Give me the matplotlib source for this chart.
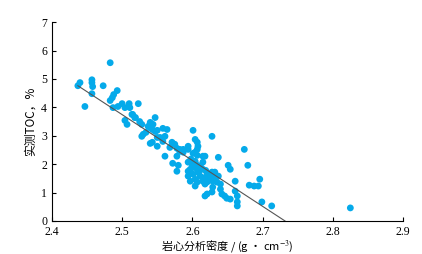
import matplotlib.pyplot as plt

plt.rcParams['font.family'] = ['Liberation Serif', 'Noto Sans CJK SC']
plt.rcParams['mathtext.fontset'] = 'stix'

# Densidade (g/cm3) e TOC medido (%)
densidade = [
    2.437, 2.440, 2.447, 2.457, 2.457, 2.458, 2.457, 2.473, 2.483, 2.493,
    2.488, 2.486, 2.483, 2.487, 2.500, 2.494, 2.504, 2.510, 2.511, 2.523,
    2.514, 2.518, 2.504, 2.507, 2.525, 2.528, 2.547, 2.540, 2.537, 2.544,
    2.543, 2.550, 2.558, 2.564, 2.528, 2.530, 2.534, 2.540, 2.550, 2.554,
    2.558, 2.561, 2.571, 2.575, 2.568, 2.578, 2.582, 2.587, 2.594, 2.601,
    2.604, 2.607, 2.608, 2.628, 2.615, 2.561, 2.578, 2.637, 2.540, 2.594,
    2.582, 2.572, 2.580, 2.594, 2.601, 2.600, 2.607, 2.578, 2.594, 2.611,
    2.615, 2.608, 2.594, 2.601, 2.611, 2.621, 2.625, 2.632, 2.637, 2.587,
    2.604, 2.618, 2.674, 2.604, 2.615, 2.651, 2.654, 2.679, 2.597, 2.628,
    2.604, 2.615, 2.621, 2.629, 2.635, 2.597, 2.607, 2.618, 2.604, 2.640,
    2.629, 2.661, 2.621, 2.628, 2.640, 2.642, 2.646, 2.661, 2.664, 2.654,
    2.664, 2.664, 2.628, 2.629, 2.696, 2.681, 2.688, 2.694, 2.699, 2.713,
    2.825, 2.618, 2.649, 2.547, 2.550, 2.543, 2.607, 2.601, 2.607, 2.515,
    2.519, 2.612, 2.619, 2.624, 2.609, 2.616, 2.623, 2.631, 2.598, 2.603,
]
toc = [
    4.76, 4.87, 4.03, 4.97, 4.87, 4.73, 4.48, 4.76, 5.57, 4.59,
    4.45, 4.34, 4.24, 3.99, 4.13, 4.03, 3.99, 4.13, 3.99, 4.13,
    3.75, 3.64, 3.54, 3.40, 3.50, 3.40, 3.64, 3.47, 3.33, 3.40,
    3.22, 3.19, 3.26, 3.22, 2.98, 3.05, 3.12, 2.73, 2.63, 2.94,
    2.80, 2.98, 2.77, 2.70, 2.59, 2.56, 2.52, 2.52, 2.63, 3.19,
    2.87, 2.77, 2.63, 2.98, 2.28, 2.28, 2.28, 2.24, 3.29, 2.52,
    2.45, 2.03, 1.96, 2.07, 2.03, 1.93, 1.96, 1.75, 1.75, 1.93,
    1.82, 1.75, 1.58, 1.65, 1.58, 1.68, 1.58, 1.72, 1.58, 2.42,
    2.42, 2.28, 2.52, 2.10, 2.07, 1.96, 1.82, 1.96, 1.82, 1.65,
    1.47, 1.40, 1.37, 1.40, 1.37, 1.40, 1.37, 1.30, 1.23, 1.30,
    1.19, 1.40, 0.95, 1.02, 1.12, 0.95, 0.88, 1.05, 0.88, 0.77,
    0.67, 0.53, 1.72, 1.51, 1.47, 1.26, 1.23, 1.23, 0.67, 0.53,
    0.46, 0.88, 0.80, 3.15, 2.94, 2.77, 2.52, 2.38, 2.31, 3.75,
    3.64, 1.88, 1.78, 1.62, 1.70, 1.52, 1.48, 1.55, 2.18, 1.88,
]

# Linha de ajuste (extremos)
ajuste_x = [2.437, 2.732]
ajuste_y = [4.76, 0.0]

fig = plt.figure(figsize=(4.22, 2.54), dpi=100)
ax = fig.add_axes([0.123, 0.13, 0.832, 0.783])

ax.scatter(densidade, toc, s=24, color='#05aaea', edgecolors='none', zorder=2)
ax.plot(ajuste_x, ajuste_y, color='#555555', linewidth=0.8, zorder=3)

ax.set_xlim(2.4, 2.9)
ax.set_ylim(0, 7)
ax.set_xticks([2.4, 2.5, 2.6, 2.7, 2.8, 2.9])
ax.set_yticks(range(0, 8))
ax.tick_params(direction='in', length=3, width=0.8, labelsize=8.5)
ax.tick_params(axis='x', pad=3.5)
ax.tick_params(axis='y', pad=3.5)
ax.spines['top'].set_visible(False)
ax.spines['right'].set_visible(False)

ax.set_xlabel('岩心分析密度 / (g · cm$^{-3}$)', fontsize=8, labelpad=0,
              family=['Noto Sans CJK SC', 'Liberation Serif'])
ax.set_ylabel('实测TOC，%', fontsize=8.5, labelpad=3,
              family=['Noto Sans CJK SC', 'Liberation Serif'])

fig.savefig('out.png', dpi=100)
